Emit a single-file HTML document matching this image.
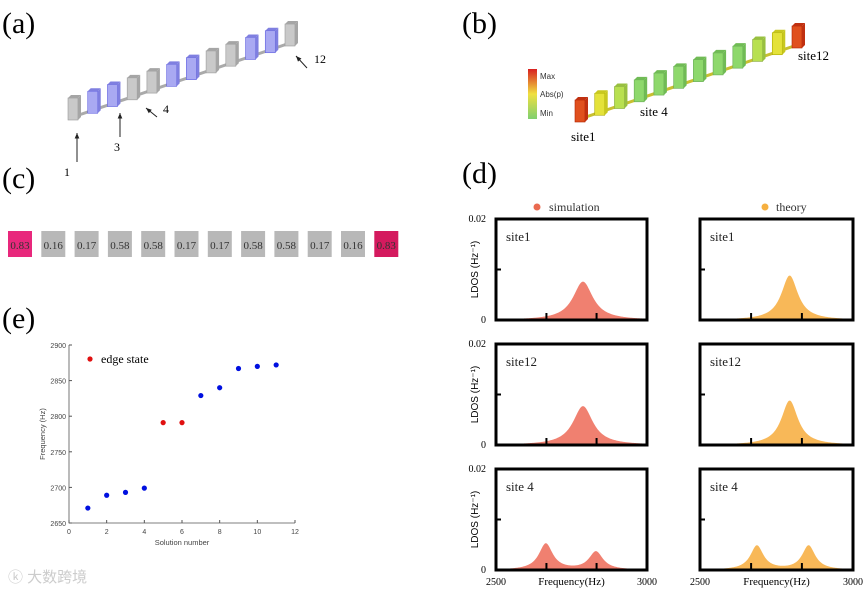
<!DOCTYPE html>
<html><head><meta charset="utf-8"><style>
body{margin:0;background:#fff;width:864px;height:589px;overflow:hidden;font-family:"Liberation Serif",serif}
svg{position:absolute;left:0;top:0}
</style></head><body>
<svg width="864" height="589" id="fig" font-family="Liberation Serif, serif">
<text x="2" y="33" font-size="30">(a)</text>
<text x="462" y="33" font-size="30">(b)</text>
<text x="2" y="188" font-size="30">(c)</text>
<text x="462" y="183" font-size="30">(d)</text>
<text x="2" y="328" font-size="30">(e)</text>
<g id="pa"></g>
<g id="pb"></g>
<g id="pc"></g>
<g id="pe"></g>
<g id="pd"></g>
<text x="8" y="582" font-size="15" fill="#ccc" font-family="Liberation Sans, Noto Sans CJK SC, sans-serif">ⓚ 大数跨境</text>
</svg>
<script>
const NS='http://www.w3.org/2000/svg';
function mk(p,t,a){const e=document.createElementNS(NS,t);for(const k in a)e.setAttribute(k,a[k]);p.appendChild(e);return e;}
// ---- data ----
const siteTypes=['g','b','b','g','g','b','b','g','g','b','b','g'];
const fieldLevels=[1,0.55,0.25,0.2,0.15,0.15,0.15,0.15,0.2,0.25,0.55,1];
const amplitudes=[0.83,0.16,0.17,0.58,0.58,0.17,0.17,0.58,0.58,0.17,0.16,0.83];
const solutionNumbers=[1,2,3,4,5,6,7,8,9,10,11];
const frequencies=[2671,2689,2693,2699,2791,2791,2829,2840,2867,2870,2872];
const edgeFlags=[0,0,0,0,1,1,0,0,0,0,0];
const xTicksE=[0,2,4,6,8,10,12];
const yTicksE=[2650,2700,2750,2800,2850,2900];
const panelSites=['site1','site12','site 4'];
const simPeakFreq=[[2788],[2788],[2665,2831]];
const simPeakAmp=[[0.0076],[0.0077],[0.0052,0.0036]];
const thPeakFreq=[[2793],[2793],[2686,2855]];
const thPeakAmp=[[0.0088],[0.0088],[0.0048,0.0048]];
const simWidth=[40,40,28];
const thWidth=[33,33,26];

// ---- panel a / b chains ----
function chain(g,x0,y0,x1,y1,colorFn,rodCol){
  mk(g,'line',{x1:x0,y1:y0+15,x2:x1,y2:y1+15,stroke:rodCol,'stroke-width':3});
  for(let i=0;i<12;i++){
    const x=x0+(x1-x0)*i/11,y=y0+(y1-y0)*i/11;
    const c=colorFn(i);
    const b=mk(g,'g',{});
    
    
    mk(b,'rect',{x:x-5,y:y-4,width:10,height:22,fill:c[0],stroke:c[2],'stroke-width':0.6});
    mk(b,'polygon',{points:`${x+5},${y-4} ${x+8},${y-7} ${x+8},${y+15} ${x+5},${y+18}`,fill:c[1]});
    mk(b,'polygon',{points:`${x-5},${y-4} ${x-2},${y-7} ${x+8},${y-7} ${x+5},${y-4}`,fill:c[1]});
  }
}
const pa=document.getElementById('pa');
chain(pa,73,102,290,28,i=>siteTypes[i]=='b'?['#a9a9f2','#7f7fe0','#6060e0']:['#c9c9c9','#a5a5a5','#999'],'#aaa');
function arrow(g,x1,y1,x2,y2,txt,tx,ty,n){
  const a=mk(g,'g',{});
  mk(a,'line',{x1,y1,x2,y2,stroke:'#222','stroke-width':1});
  const ang=Math.atan2(y2-y1,x2-x1);
  mk(a,'polygon',{points:`${x2},${y2} ${x2-6*Math.cos(ang-0.4)},${y2-6*Math.sin(ang-0.4)} ${x2-6*Math.cos(ang+0.4)},${y2-6*Math.sin(ang+0.4)}`,fill:'#222'});
  mk(a,'text',{x:tx,y:ty,'font-size':12}).textContent=txt;
}
arrow(pa,77,162,77,133,'1',64,176,'arrow-site1');
arrow(pa,120,137,120,113,'3',114,151,'arrow-site3');
arrow(pa,157,117,146,108,'4',163,113,'arrow-site4');
arrow(pa,307,68,296,56,'12',314,63,'arrow-site12');
const pb=document.getElementById('pb');
function heat(v){return v>0.8?['#e0501e','#c03010','#b02000']:v>0.4?['#e4e23a','#c8c820','#aa0']:v>0.2?['#b8e050','#98c040','#8a4']:['#8ed86c','#70bb55','#6a5'];}
chain(pb,580,104,797,30,i=>heat(fieldLevels[i]),'#c8c030');
const grad=mk(pb,'linearGradient',{id:'cb',x1:0,y1:0,x2:0,y2:1});
[['0','#d82020'],['0.5','#f0e040'],['1','#80d070']].forEach(s=>mk(grad,'stop',{offset:s[0],'stop-color':s[1]}));
mk(pb,'rect',{x:528,y:69,width:9,height:50,fill:'url(#cb)',});
[['Max',79],['Abs(p)',97],['Min',116]].forEach(t=>mk(pb,'text',{x:540,y:t[1],'font-size':8,'font-family':'Liberation Sans, sans-serif',fill:'#333'}).textContent=t[0]);
mk(pb,'text',{x:571,y:141,'font-size':13}).textContent='site1';
mk(pb,'text',{x:640,y:116,'font-size':13}).textContent='site 4';
mk(pb,'text',{x:798,y:60,'font-size':13}).textContent='site12';

// ---- panel c ----
const pc=document.getElementById('pc');
amplitudes.forEach((v,i)=>{
  const x=8+i*33.3;
  const col=i==0?'#e8287c':i==11?'#d41a5e':'#b8b8b8';
  const b=mk(pc,'rect',{x,y:231,width:24,height:26,fill:col});
  
  
  const t=mk(pc,'text',{x:x+12,y:249,'font-size':11,'text-anchor':'middle',fill:'#333'});
  t.textContent=v.toFixed(2);
});

// ---- panel e ----
const pe=document.getElementById('pe');
const ex0=69,ex1=295,ey0=523,ey1=345;
const sx=v=>ex0+(v-0)/12*(ex1-ex0), sy=v=>ey0-(v-2650)/250*(ey0-ey1);
mk(pe,'polyline',{points:`${ex0},${ey1} ${ex0},${ey0} ${ex1},${ey0}`,fill:'none',stroke:'#555','stroke-width':0.8});
xTicksE.forEach(t=>{mk(pe,'line',{x1:sx(t),y1:ey0,x2:sx(t),y2:ey0-3,stroke:'#555'});mk(pe,'text',{x:sx(t),y:ey0+11,'font-size':7,'text-anchor':'middle','font-family':'Liberation Sans, sans-serif',fill:'#444'}).textContent=t;});
yTicksE.forEach(t=>{mk(pe,'line',{x1:ex0,y1:sy(t),x2:ex0+3,y2:sy(t),stroke:'#555'});mk(pe,'text',{x:ex0-3,y:sy(t)+3,'font-size':7,'text-anchor':'end','font-family':'Liberation Sans, sans-serif',fill:'#444'}).textContent=t;});
mk(pe,'text',{x:(ex0+ex1)/2,y:ey0+22,'font-size':7.5,'text-anchor':'middle','font-family':'Liberation Sans, sans-serif',fill:'#444'}).textContent='Solution number';
mk(pe,'text',{x:0,y:0,'font-size':7.5,'text-anchor':'middle','font-family':'Liberation Sans, sans-serif',fill:'#444',transform:`translate(45,${(ey0+ey1)/2}) rotate(-90)`}).textContent='Frequency (Hz)';
solutionNumbers.forEach((n,i)=>{
  const c=mk(pe,'circle',{cx:sx(n),cy:sy(frequencies[i]),r:2.6,fill:edgeFlags[i]?'#e01010':'#0010e0'});
  
  
});
mk(pe,'circle',{cx:90,cy:359,r:2.6,fill:'#e01010'});
mk(pe,'text',{x:101,y:363,'font-size':12}).textContent='edge state';

// ---- panel d ----
const pd=document.getElementById('pd');
const cols=[{x0:496,w:151,c:'#f08070',f:simPeakFreq,a:simPeakAmp,wd:simWidth},{x0:700,w:153,c:'#f8b858',f:thPeakFreq,a:thPeakAmp,wd:thWidth}];
const rowsY=[219,344,469],H=101;
mk(pd,'circle',{cx:537,cy:207,r:3.5,fill:'#ea6a50'});
mk(pd,'text',{x:549,y:211,'font-size':12,fill:'#333'}).textContent='simulation';
mk(pd,'circle',{cx:765,cy:207,r:3.5,fill:'#f6b040'});
mk(pd,'text',{x:776,y:211,'font-size':12,fill:'#333'}).textContent='theory';
rowsY.forEach((y0,r)=>{
  cols.forEach((C,k)=>{
    const fx=f=>C.x0+(f-2500)/500*C.w, fy=v=>y0+H-v/0.02*H;
    let pts=`${fx(2500)},${fy(0)} `;
    for(let f=2500;f<=3000;f+=2){let v=0;C.f[r].forEach((p,j)=>{const d=(f-p)/C.wd[r];v+=C.a[r][j]/(1+d*d);});pts+=`${fx(f)},${fy(v)} `;}
    pts+=`${fx(3000)},${fy(0)}`;
    const a=mk(pd,'polygon',{points:pts,fill:C.c});
    
    
    mk(pd,'rect',{x:C.x0,y:y0,width:C.w,height:H,fill:'none',stroke:'#000','stroke-width':3});
    [2667,2833].forEach(t=>mk(pd,'line',{x1:fx(t),y1:y0+H,x2:fx(t),y2:y0+H-7,stroke:'#000','stroke-width':2}));
    mk(pd,'line',{x1:C.x0,y1:y0+H/2,x2:C.x0+5,y2:y0+H/2,stroke:'#000','stroke-width':2});
    mk(pd,'text',{x:C.x0+10,y:y0+22,'font-size':13,fill:'#222'}).textContent=panelSites[r];
    if(r==2){
      mk(pd,'text',{x:C.x0,y:585,'font-size':10,'text-anchor':'middle'}).textContent='2500';
      mk(pd,'text',{x:C.x0+C.w,y:585,'font-size':10,'text-anchor':'middle'}).textContent='3000';
      mk(pd,'text',{x:C.x0+C.w/2,y:585,'font-size':11,'text-anchor':'middle'}).textContent='Frequency(Hz)';
    }
  });
  mk(pd,'text',{x:486,y:y0+3,'font-size':10,'text-anchor':'end'}).textContent='0.02';
  mk(pd,'text',{x:486,y:y0+H+3,'font-size':10,'text-anchor':'end'}).textContent='0';
  mk(pd,'text',{x:0,y:0,'font-size':10,'text-anchor':'middle','font-family':'Liberation Sans, sans-serif',transform:`translate(478,${y0+H/2}) rotate(-90)`}).textContent='LDOS (Hz⁻¹)';
});
</script>
</body></html>
